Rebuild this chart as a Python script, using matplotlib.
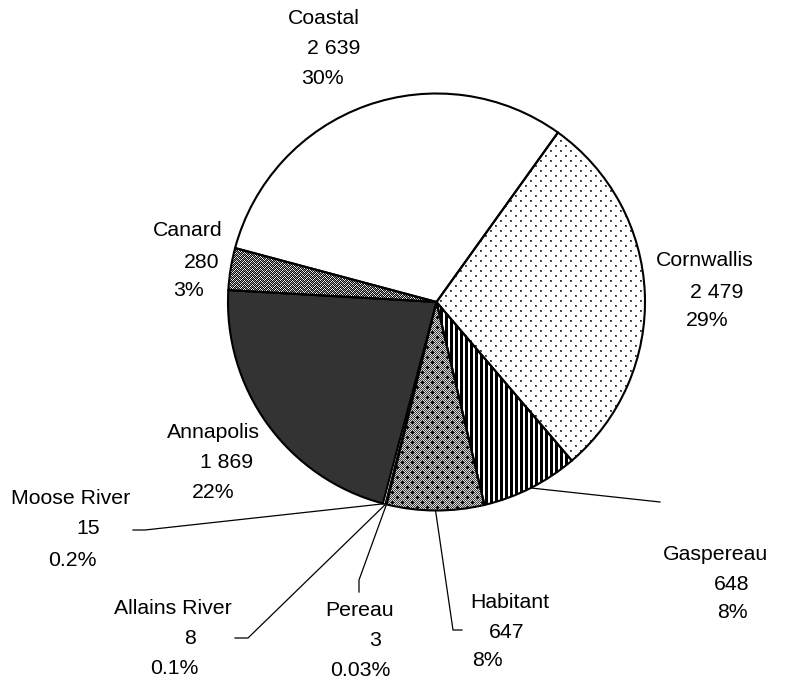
import numpy as np
import matplotlib
matplotlib.use('Agg')
from matplotlib import pyplot as plt

plt.rcParams["font.family"] = ["Liberation Sans", "DejaVu Sans"]

# clockwise from the Coastal slice
names = ["Coastal", "Cornwallis", "Gaspereau", "Habitant", "Pereau",
         "Allains River", "Moose River", "Annapolis", "Canard"]
counts = [2639, 2479, 648, 647, 3, 8, 15, 1869, 280]
pct_labels = ["30%", "29%", "8%", "8%", "0.03%", "0.1%", "0.2%", "22%", "3%"]

W, H = 799, 681
def Y(y):
    return H - y

# label line centres (x, y) in pixels: name, number, percent
label_pos = {
    "Coastal": [(324, 19), (334, 49), (322, 79)],
    "Cornwallis": [(705, 260), (717, 292), (707, 320)],
    "Gaspereau": [(716, 555), (732, 585), (732, 613)],
    "Habitant": [(510, 603), (507, 633), (487, 661)],
    "Pereau": [(360, 610), (375, 640), (360, 670)],
    "Allains River": [(173, 609), (190, 638), (174, 668)],
    "Moose River": [(71, 498), (88, 528), (72, 560)],
    "Annapolis": [(213, 433), (227, 463), (213, 493)],
    "Canard": [(188, 231), (202, 262), (188, 290)],
}
# leader line elbows after the point on the rim
leaders = {
    "Gaspereau": [(660, 502)],
    "Habitant": [(453, 630), (462, 630)],
    "Pereau": [(359, 580), (359, 592)],
    "Allains River": [(248, 638), (235, 638)],
    "Moose River": [(145, 530), (133, 530)],
}
thin = {"Pereau", "Allains River", "Moose River"}


def tile_dots():
    t = np.ones((10, 10))
    for cy, cx in [(0, 0), (5, 5)]:
        t[cy:cy + 2, cx:cx + 2] = 0.35
        t[cy, cx] = 0.15
    return t


def tile_stripes():
    return np.tile(np.array([0.0, 0.0, 0.0, 1.0, 1.0]), (5, 1))


def tile_checker_plus():
    yy, xx = np.mgrid[0:10, 0:10]
    t = np.where((xx + yy) % 2 == 0, 0.25, 0.85)
    for cy, cx in [(2, 2), (7, 7)]:
        t[cy, cx - 1:cx + 2] = 0.0
        t[cy - 1:cy + 2, cx] = 0.0
    return t


def tile_weave():
    yy, xx = np.mgrid[0:8, 0:8]
    tri = np.abs(xx % 8 - 4)
    k = (yy - tri) % 4
    t = np.full((8, 8), 0.05)
    t[k == 0] = 0.95
    t[(k == 2) & ((xx + yy) % 2 == 0)] = 0.55
    return t


textures = {
    "Cornwallis": tile_dots(),
    "Gaspereau": tile_stripes(),
    "Habitant": tile_checker_plus(),
    "Canard": tile_weave(),
}
face = {"Annapolis": "#333333"}

fig = plt.figure(figsize=(W / 100, H / 100), dpi=100)
ax = fig.add_axes([0, 0, 1, 1])

cx, cy, r = 436.5, Y(302), 208.5
start = 165
colors = [face.get(n, "white") for n in names]
wedges, _ = ax.pie(counts, colors=colors, startangle=start, counterclock=False,
                   radius=r, center=(cx, cy),
                   wedgeprops=dict(linewidth=0, zorder=1))

for w, n in zip(wedges, names):
    if n in textures:
        t = textures[n]
        reps = (H // t.shape[0] + 1, W // t.shape[1] + 1)
        img = np.tile(t, reps)[:H, :W]
        im = ax.imshow(img, cmap="gray", vmin=0, vmax=1, extent=(0, W, 0, H),
                       interpolation="nearest", zorder=2)
        im.set_clip_path(w)

outlines, _ = ax.pie(counts, startangle=start, counterclock=False, radius=r,
                     center=(cx, cy),
                     wedgeprops=dict(fill=False, edgecolor="black",
                                     linewidth=1.5, zorder=3))
for w, n in zip(outlines, names):
    if n in thin:
        w.set_linewidth(0.6)
        w.set_zorder(2.5)

# leader lines from the middle of each small slice's arc
total = sum(counts)
ang = start
for n, v in zip(names, counts):
    span = 360 * v / total
    mid = np.deg2rad(ang - span / 2)
    ang -= span
    if n in leaders:
        pts = [(cx + r * np.cos(mid), cy + r * np.sin(mid))]
        pts += [(x, Y(y)) for x, y in leaders[n]]
        xs, ys = zip(*pts)
        ax.plot(xs, ys, color="black", lw=0.9, zorder=4)

for n, v, p in zip(names, counts, pct_labels):
    num = f"{v:,}".replace(",", " ")
    for s, (x, y) in zip([n, num, p], label_pos[n]):
        ax.text(x, Y(y), s, ha="center", va="center", fontsize=15.3, color="black")

ax.set_xlim(0, W)
ax.set_ylim(0, H)
ax.set_aspect("equal")
ax.axis("off")

plt.savefig("out.png", dpi=100)
plt.close()
